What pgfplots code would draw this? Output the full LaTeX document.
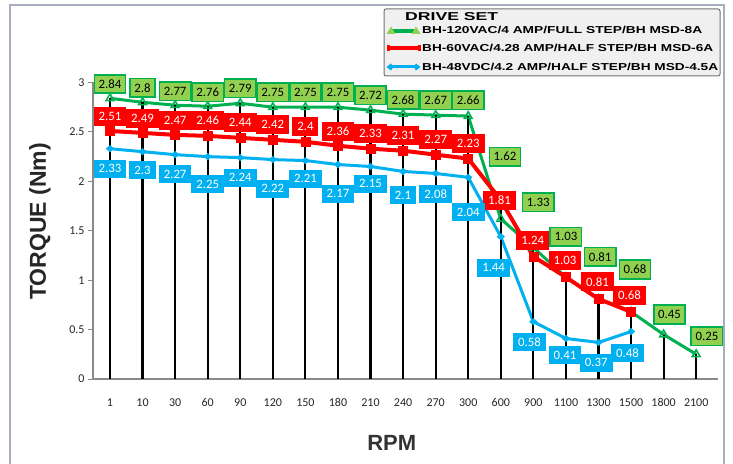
\documentclass[border=0pt]{standalone}
\usepackage{pgfplots}
\pgfplotsset{compat=1.18}
\usepackage{pgfplotstable}
\usepackage{graphicx}
\usepackage{fontspec}
\setmainfont{Carlito}
\newfontfamily\arialf{Liberation Sans}

\definecolor{gline}{HTML}{00B050}
\definecolor{gfill}{HTML}{92D050}
\definecolor{rline}{HTML}{FF0000}
\definecolor{bline}{HTML}{00B0F0}
\definecolor{axgray}{HTML}{898989}
\definecolor{framec}{HTML}{A6AEBF}

\pgfplotstableread{
x y
0 2.84
1 2.8
2 2.77
3 2.76
4 2.79
5 2.75
6 2.75
7 2.75
8 2.72
9 2.68
10 2.67
11 2.66
12 1.62
13 1.33
14 1.03
15 0.81
16 0.68
17 0.45
18 0.25
}\greendata

\pgfplotstableread{
x y
0 2.51
1 2.49
2 2.47
3 2.46
4 2.44
5 2.42
6 2.4
7 2.36
8 2.33
9 2.31
10 2.27
11 2.23
12 1.81
13 1.24
14 1.03
15 0.81
16 0.68
}\reddata

\pgfplotstableread{
x y
0 2.33
1 2.3
2 2.27
3 2.25
4 2.24
5 2.22
6 2.21
7 2.17
8 2.15
9 2.1
10 2.08
11 2.04
12 1.44
13 0.58
14 0.41
15 0.37
16 0.48
}\bluedata

\pgfplotstableread{
x y
0 2.84
1 2.8
2 2.77
3 2.76
4 2.79
5 2.75
6 2.75
7 2.75
8 2.72
9 2.68
10 2.67
11 2.66
12 1.81
13 1.33
14 1.03
15 0.81
16 0.68
17 0.45
18 0.25
}\dropdata

\pgfplotstableread{
x y v
0 2.985 2.84
1 2.946 2.8
2 2.91 2.77
3 2.90 2.76
4 2.94 2.79
5 2.90 2.75
6 2.90 2.75
7 2.90 2.75
8 2.87 2.72
9 2.825 2.68
10 2.82 2.67
11 2.82 2.66
12.13 2.25 1.62
13.15 1.79 1.33
14.0 1.44 1.03
15.05 1.235 0.81
16.12 1.108 0.68
17.18 0.653 0.45
18.33 0.434 0.25
}\greenlab

\pgfplotstableread{
x y v
0 2.657 2.51
1 2.64 2.49
2 2.62 2.47
3 2.616 2.46
4 2.593 2.44
5 2.573 2.42
6 2.556 2.4
7 2.508 2.36
8 2.488 2.33
9 2.465 2.31
10 2.42 2.27
11 2.387 2.23
11.96 1.808 1.81
12.98 1.404 1.24
13.97 1.202 1.03
14.97 0.983 0.81
15.95 0.848 0.68
}\redlab

\pgfplotstableread{
x y v
0 2.128 2.33
1 2.11 2.3
2 2.07 2.27
3 1.97 2.25
4 2.037 2.24
5 1.926 2.22
6 2.027 2.21
7 1.875 2.17
8 1.976 2.15
9 1.859 2.1
10 1.869 2.08
11 1.69 2.04
11.78 1.128 1.44
12.88 0.377 0.58
13.97 0.242 0.41
14.93 0.165 0.37
15.89 0.266 0.48
}\bluelab

\begin{document}
\begin{tikzpicture}[x=1pt,y=1pt]
\begin{axis}[
  at={(93pt,84pt)}, anchor=south west,
  scale only axis, width=625pt, height=296.5pt,
  xmin=-0.522, xmax=18.67, ymin=0, ymax=3,
  clip=false,
  axis lines=left,
  axis line style={axgray, line width=1.5pt, -},
  xtick={0,...,18},
  xticklabels={1,10,30,60,90,120,150,180,210,240,270,300,600,900,1100,1300,1500,1800,2100},
  ytick={0,0.5,1,1.5,2,2.5,3},
  yticklabels={0,0.5,1,1.5,2,2.5,3},
  tick align=outside,
  major tick length=5pt,
  xtick style={draw=none},
  ytick style={axgray, line width=1pt},
  /pgf/number format/assume math mode=true,
  ticklabel style={font=\fontsize{12}{13}\selectfont, text=black!85},
  xticklabel style={yshift=-11pt},
  xlabel={RPM},
  xlabel style={at={(axis description cs:0.478,-0.216)}, anchor=center,
    font=\arialf\bfseries\fontsize{22}{24}\selectfont, text=black!80},
  ylabel={TORQUE (Nm)},
  ylabel style={at={(axis description cs:-0.0848,0.531)}, anchor=center,
    font=\arialf\bfseries\fontsize{23}{25}\selectfont, text=black!85},
]
% series
\addplot[gline, line width=3pt, mark=triangle, mark size=4.5pt,
  mark options={line width=1.5pt, solid}] table[x=x,y=y] {\greendata};
\addplot[rline, line width=4pt, mark=square*, mark size=4.5pt,
  mark options={line width=0.5pt, solid}] table[x=x,y=y] {\reddata};
\addplot[bline, line width=3pt, mark=diamond*, mark size=3.6pt,
  mark options={line width=0.5pt, solid, xscale=1.4, yscale=0.9}] table[x=x,y=y] {\bluedata};
% drop lines
\addplot[ycomb, black, line width=2.2pt, mark=none] table[x=x,y=y] {\dropdata};
% data labels
\addplot[only marks, mark=*, mark size=0pt, mark options={draw=none,fill=none},
  point meta=explicit symbolic, nodes near coords,
  nodes near coords style={anchor=center, fill=gfill, draw=gline, line width=1.6pt,
    text=black, inner xsep=4.3pt, inner ysep=0pt, minimum height=18.5pt,
    font=\fontsize{12.8}{13}\selectfont}]
  table[x=x,y=y,meta=v] {\greenlab};
\addplot[only marks, mark=*, mark size=0pt, mark options={draw=none,fill=none},
  point meta=explicit symbolic, nodes near coords,
  nodes near coords style={anchor=center, fill=rline, draw=none,
    text=white, inner xsep=5pt, inner ysep=0pt, minimum height=19pt,
    font=\fontsize{12.8}{13}\selectfont}]
  table[x=x,y=y,meta=v] {\redlab};
\addplot[only marks, mark=*, mark size=0pt, mark options={draw=none,fill=none},
  point meta=explicit symbolic, nodes near coords,
  nodes near coords style={anchor=center, fill=bline, draw=none,
    text=white, inner xsep=5pt, inner ysep=0pt, minimum height=18pt,
    font=\fontsize{12.8}{13}\selectfont}]
  table[x=x,y=y,meta=v] {\bluelab};
\end{axis}

% outer frame
\draw[framec, line width=1.3pt] (10,-5) -- (10,458) -- (724,458) -- (724,-5);

% legend
\draw[rounded corners=2pt, fill=black!6, draw=black!55, line width=1pt] (384,454) rectangle (720,387);
\node[anchor=west, inner sep=0pt] at (405,446) {\resizebox{93pt}{8pt}{\arialf\bfseries DRIVE SET}};
% row 1
\draw[gline, line width=4pt] (392,432) -- (415,432);
\fill[gfill] (386.5,429) -- (395.5,429) -- (391,436.5) -- cycle;
\fill[gfill] (411.5,429) -- (420.5,429) -- (416,436.5) -- cycle;
\node[anchor=west, inner sep=0pt] at (422,433) {\resizebox{280pt}{7.3pt}{\arialf\bfseries BH-120VAC/4 AMP/FULL STEP/BH MSD-8A}};
% row 2
\draw[rline, line width=4pt] (388,415) -- (419,415);
\fill[rline] (386.5,412) rectangle (389.5,418);
\fill[rline] (417.5,412) rectangle (420.5,418);
\node[anchor=west, inner sep=0pt] at (422,415) {\resizebox{291pt}{7.3pt}{\arialf\bfseries BH-60VAC/4.28 AMP/HALF STEP/BH MSD-6A}};
% row 3
\draw[bline, line width=3pt] (390,396) -- (417,396);
\fill[bline] (386.5,396) -- (391,399.5) -- (393.5,396) -- (391,392.5) -- cycle;
\fill[bline] (420.5,396) -- (416,399.5) -- (413.5,396) -- (416,392.5) -- cycle;
\node[anchor=west, inner sep=0pt] at (422,396) {\resizebox{296pt}{7.3pt}{\arialf\bfseries BH-48VDC/4.2 AMP/HALF STEP/BH MSD-4.5A}};

\pgfresetboundingbox
\path[use as bounding box] (0,0) rectangle (733,463);
\end{tikzpicture}
\end{document}
